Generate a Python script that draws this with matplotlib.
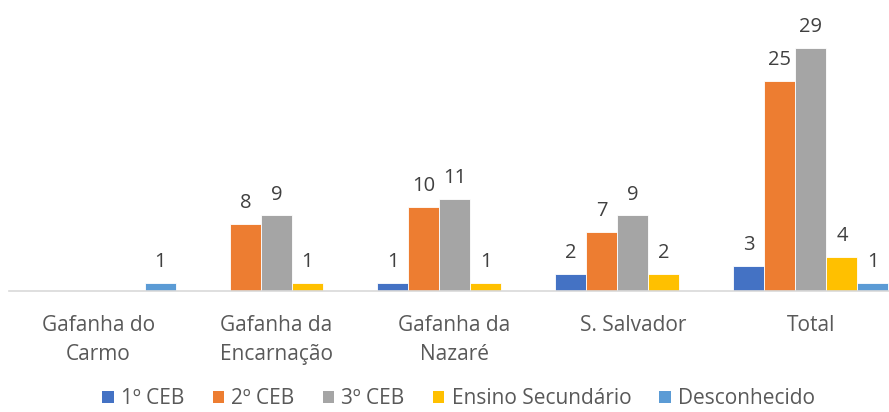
import numpy as np
import matplotlib
matplotlib.use("Agg")
import matplotlib.pyplot as plt
from matplotlib.patches import Patch

plt.rcParams["font.family"] = ["Open Sans", "DejaVu Sans"]

categories = ["Gafanha do\nCarmo", "Gafanha da\nEncarnação", "Gafanha da\nNazaré",
              "S. Salvador", "Total"]
series_names = ["1º CEB", "2º CEB", "3º CEB", "Ensino Secundário", "Desconhecido"]
ceb1 = [0, 0, 1, 2, 3]
ceb2 = [0, 8, 10, 7, 25]
ceb3 = [0, 9, 11, 9, 29]
secundario = [0, 1, 1, 2, 4]
desconhecido = [1, 0, 0, 0, 1]
values = [ceb1, ceb2, ceb3, secundario, desconhecido]
colors = ["#4472C4", "#ED7D31", "#A5A5A5", "#FFC000", "#5B9BD5"]

W, H = 889, 412
fig = plt.figure(figsize=(W / 100, H / 100), dpi=100)
ax = fig.add_axes([9 / W, 121 / H, 891 / W, 32 * 8.39 / H])

x = np.arange(len(categories))
bw = 0.174
for j, (vals, col) in enumerate(zip(values, colors)):
    xs = x + (j - 2) * bw
    ax.bar(xs, vals, bw, color=col, edgecolor="white", linewidth=0.6)
    for xi, v in zip(xs, vals):
        if v:
            ax.annotate(str(v), (xi, v), xytext=(0, 11.5), textcoords="offset points",
                        ha="center", va="baseline", fontsize=14.5, color="#404040")

ax.set_xlim(-0.5, 4.5)
ax.set_ylim(0, 32)
ax.set_yticks([])
ax.set_xticks(x)
ax.set_xticklabels(categories, fontsize=15, color="#595959", linespacing=1.5)
ax.tick_params(axis="x", length=0, pad=17)
for s in ["top", "right", "left"]:
    ax.spines[s].set_visible(False)
ax.spines["bottom"].set_color("#D9D9D9")
ax.spines["bottom"].set_linewidth(1.2)

handles = [Patch(facecolor=c, edgecolor="none") for c in colors]
fig.legend(handles, series_names, loc="center", bbox_to_anchor=(0.516, 0.032),
           ncol=5, frameon=False, fontsize=15, labelcolor="#595959",
           handlelength=0.55, handleheight=0.55, handletextpad=0.35, columnspacing=1.35,
           borderpad=0.1)

fig.savefig("out.png", dpi=100)
